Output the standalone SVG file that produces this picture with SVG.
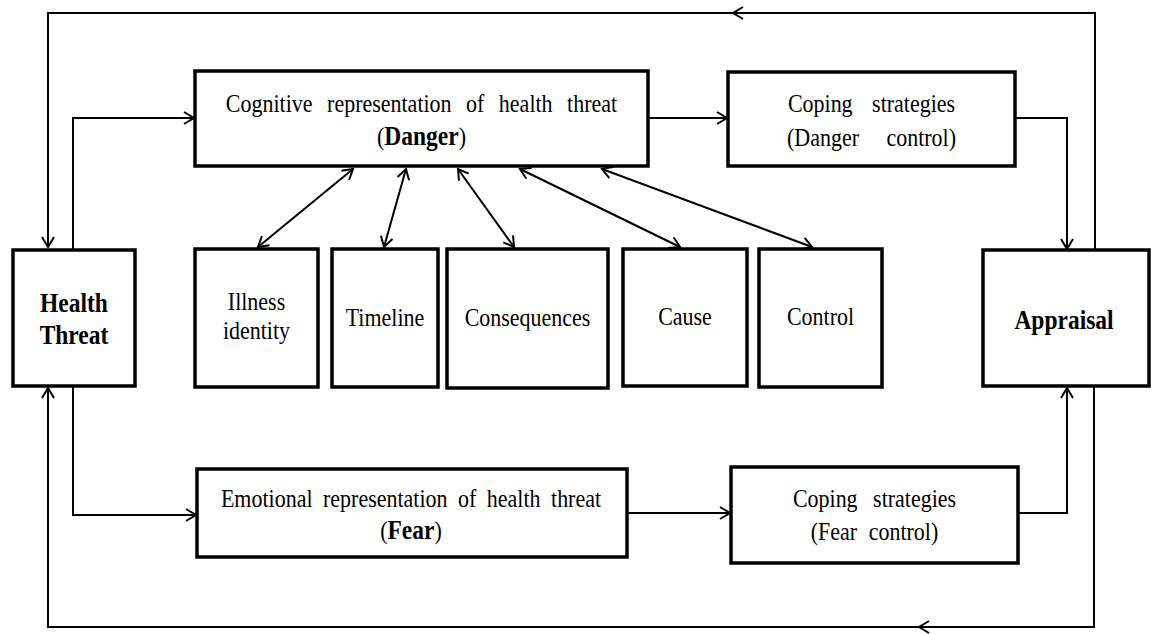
<svg xmlns="http://www.w3.org/2000/svg" width="1151" height="634" viewBox="0 0 1151 634">
<style>
.box{fill:#fff;stroke:#000;stroke-width:3.5}
.t{font-family:"Liberation Serif","Times New Roman",serif;font-size:22px;fill:#000;text-anchor:middle}
.b{font-weight:bold;font-size:23.5px}
.c{fill:none;stroke:#000;stroke-width:2}
</style>
<defs>
<marker id="ah" markerUnits="userSpaceOnUse" markerWidth="14" markerHeight="14" refX="10" refY="6" orient="auto-start-reverse" overflow="visible">
<path d="M0,0 L10,6 L0,12" fill="none" stroke="#000" stroke-width="2"/>
</marker>
</defs>
<rect width="1151" height="634" fill="#fff"/>
<g id="connectors">
<path class="c" d="M1095,250 V13 H733" marker-end="url(#ah)"/>
<path class="c" d="M734,13 H48 V247" marker-end="url(#ah)"/>
<path class="c" d="M1094,387 V627 H919" marker-end="url(#ah)"/>
<path class="c" d="M920,627 H48 V388" marker-end="url(#ah)"/>
<path class="c" d="M73,250 V118 H194" marker-end="url(#ah)"/>
<path class="c" d="M73,386 V515 H196" marker-end="url(#ah)"/>
<path class="c" d="M648,118 H727" marker-end="url(#ah)"/>
<path class="c" d="M1015,118 H1067 V249" marker-end="url(#ah)"/>
<path class="c" d="M627,513 H730" marker-end="url(#ah)"/>
<path class="c" d="M1018,513 H1067 V388" marker-end="url(#ah)"/>
<line class="c" x1="353" y1="169" x2="258" y2="247" marker-start="url(#ah)" marker-end="url(#ah)"/>
<line class="c" x1="406" y1="169" x2="384" y2="247" marker-start="url(#ah)" marker-end="url(#ah)"/>
<line class="c" x1="458" y1="169" x2="514" y2="247" marker-start="url(#ah)" marker-end="url(#ah)"/>
<line class="c" x1="520" y1="169" x2="680" y2="247" marker-start="url(#ah)" marker-end="url(#ah)"/>
<line class="c" x1="602" y1="169" x2="812" y2="247" marker-start="url(#ah)" marker-end="url(#ah)"/>
</g>
<g id="health-threat">
<rect class="box" x="13" y="250" width="122" height="136"/>
<text class="t b" transform="translate(74,312) scale(1,1.15)">Health</text>
<text class="t b" transform="translate(74,344) scale(1,1.15)">Threat</text>
</g>
<g id="cognitive">
<rect class="box" x="195" y="71" width="453" height="95"/>
<text class="t" transform="translate(421.5,112) scale(1,1.15)" word-spacing="9">Cognitive representation of health threat</text>
<text class="t" transform="translate(421.5,145) scale(1,1.15)">(<tspan class="b">Danger</tspan>)</text>
</g>
<g id="coping-danger">
<rect class="box" x="728" y="72" width="287" height="94"/>
<text class="t" transform="translate(871.5,112) scale(1,1.15)" word-spacing="14">Coping strategies</text>
<text class="t" transform="translate(871.5,146) scale(1,1.15)" word-spacing="22">(Danger control)</text>
</g>
<g id="illness-identity">
<rect class="box" x="195" y="249" width="123" height="138"/>
<text class="t" transform="translate(256.5,310) scale(1,1.15)">Illness</text>
<text class="t" transform="translate(256.5,339) scale(1,1.15)">identity</text>
</g>
<g id="timeline">
<rect class="box" x="332" y="249" width="106" height="138"/>
<text class="t" transform="translate(385,326) scale(1,1.15)">Timeline</text>
</g>
<g id="consequences">
<rect class="box" x="447" y="249" width="161" height="139"/>
<text class="t" transform="translate(527.5,326) scale(1,1.15)">Consequences</text>
</g>
<g id="cause">
<rect class="box" x="623" y="249" width="124" height="137"/>
<text class="t" transform="translate(685,325) scale(1,1.15)">Cause</text>
</g>
<g id="control">
<rect class="box" x="759" y="249" width="123" height="138"/>
<text class="t" transform="translate(820.5,325) scale(1,1.15)">Control</text>
</g>
<g id="appraisal">
<rect class="box" x="983" y="250" width="166" height="136"/>
<text class="t b" transform="translate(1064,329) scale(1,1.15)">Appraisal</text>
</g>
<g id="emotional">
<rect class="box" x="197" y="469" width="430" height="88"/>
<text class="t" transform="translate(411,507) scale(1,1.15)" word-spacing="5">Emotional representation of health threat</text>
<text class="t" transform="translate(411,539) scale(1,1.15)">(<tspan class="b">Fear</tspan>)</text>
</g>
<g id="coping-fear">
<rect class="box" x="731" y="467" width="287" height="96"/>
<text class="t" transform="translate(874.5,507) scale(1,1.15)" word-spacing="10">Coping strategies</text>
<text class="t" transform="translate(874.5,540) scale(1,1.15)" word-spacing="6">(Fear control)</text>
</g>
</svg>
